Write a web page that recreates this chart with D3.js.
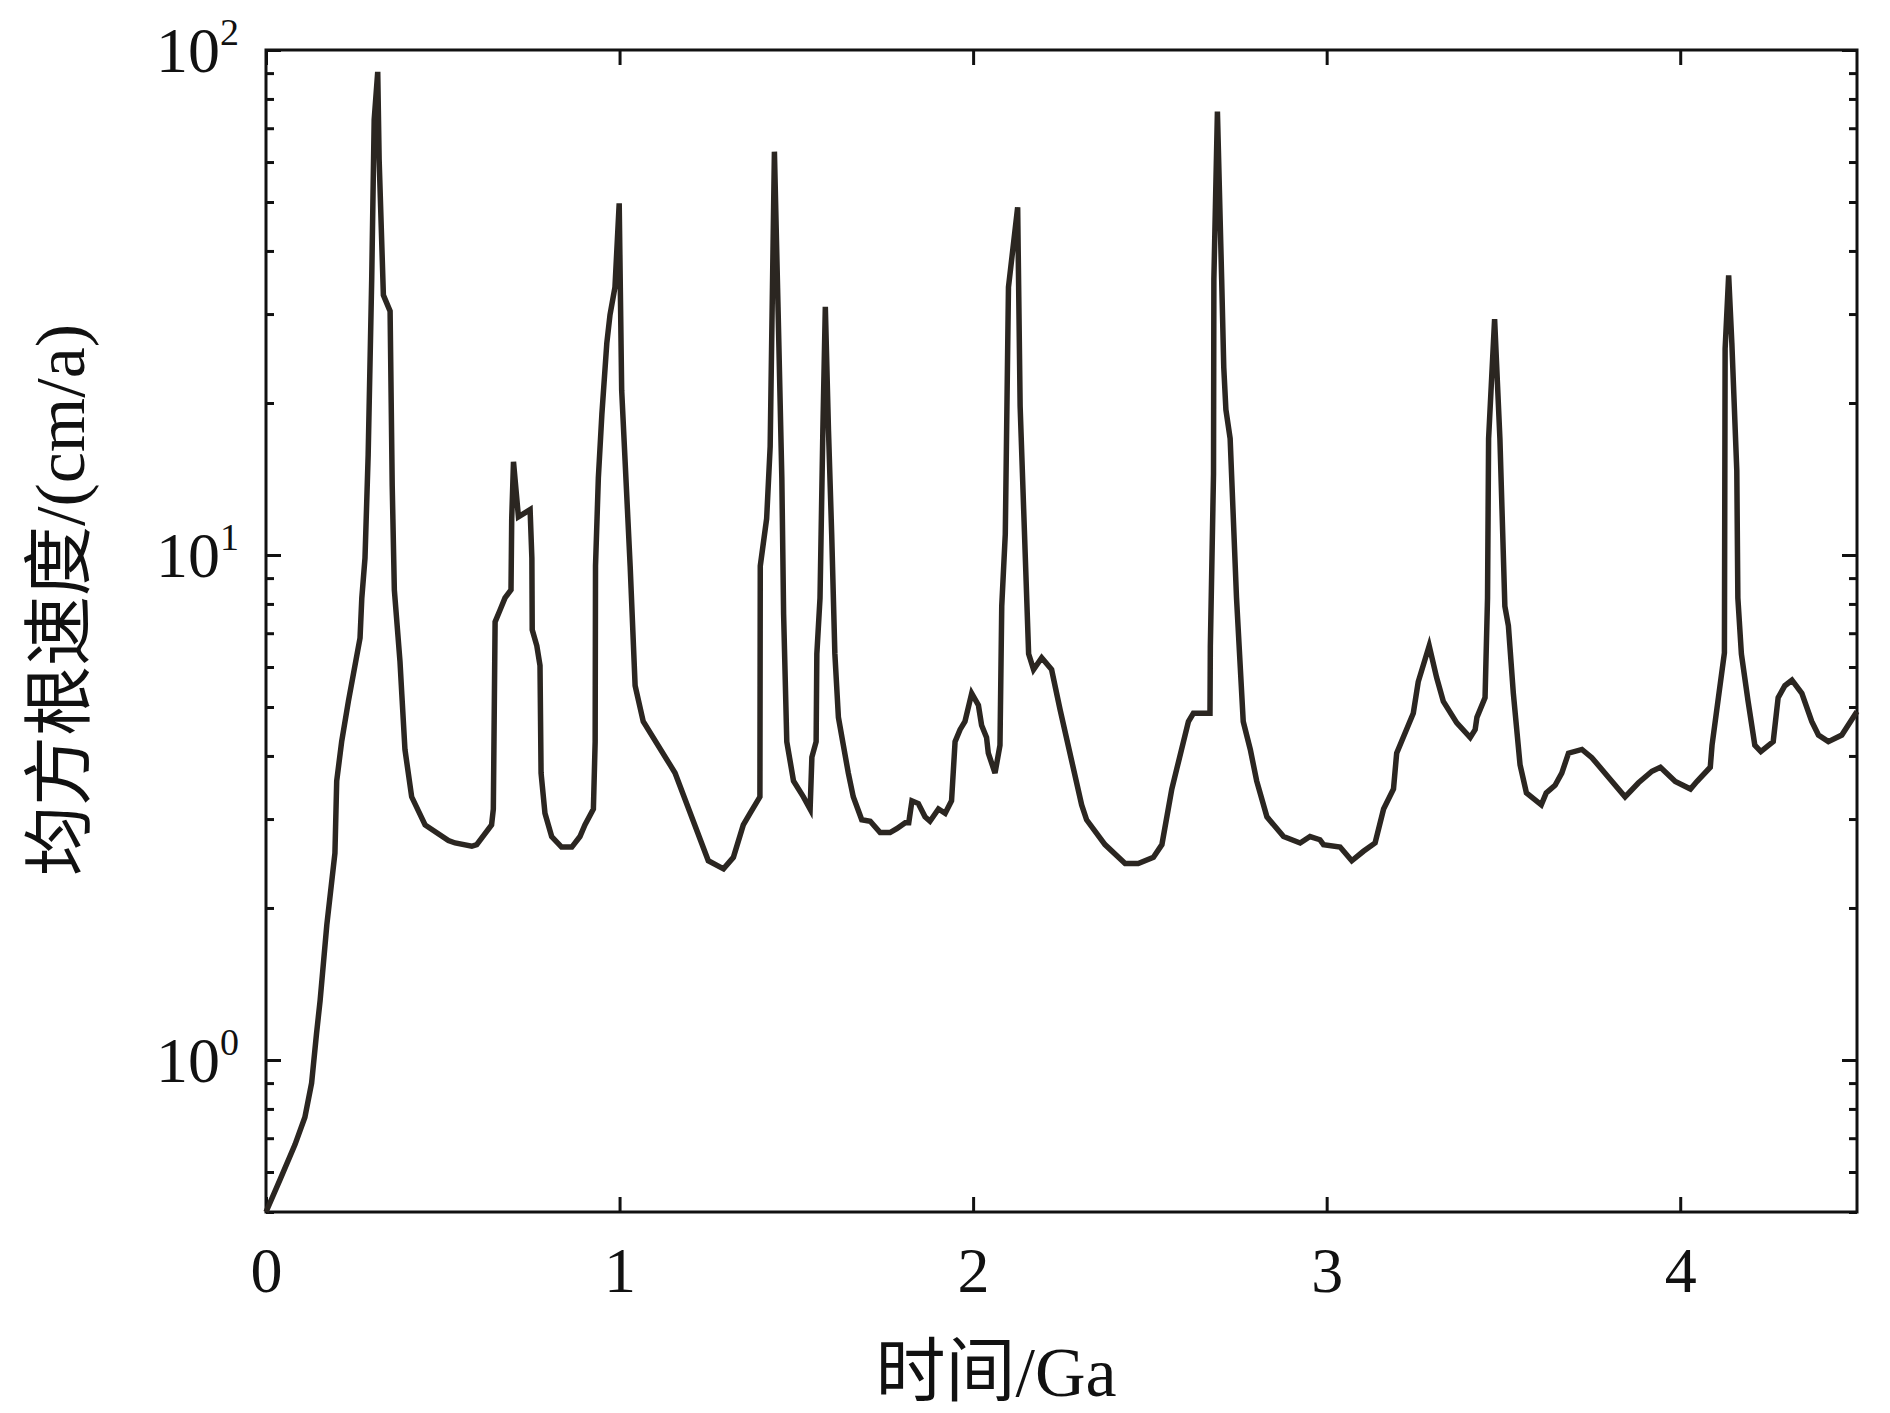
<!DOCTYPE html>
<html>
<head>
<meta charset="utf-8">
<script src="https://cdn.jsdelivr.net/npm/d3@7"></script>
<style>
  body { margin: 0; background: #fff; }
  svg { display: block; }
  text { font-family: "Liberation Serif", "Noto Sans CJK SC", serif; fill: #111; }
</style>
</head>
<body>
<div id="chart"></div>
<script>
// time in Ga and rms velocity in cm/a
const timeGa = [
  0, 0.04, 0.082, 0.110, 0.129, 0.143, 0.153, 0.172, 0.195, 0.200,
  0.214, 0.233, 0.266, 0.271, 0.280, 0.289, 0.299, 0.306, 0.316, 0.320,
  0.332, 0.351, 0.357, 0.363, 0.379, 0.384, 0.393, 0.412, 0.450, 0.516,
  0.535, 0.582, 0.596, 0.638, 0.643, 0.648, 0.662, 0.676, 0.693, 0.695,
  0.700, 0.714, 0.747, 0.752, 0.753, 0.766, 0.775, 0.778, 0.789, 0.808,
  0.836, 0.865, 0.888, 0.902, 0.926, 0.931, 0.932, 0.940, 0.950, 0.964,
  0.973, 0.987, 0.999, 1.006, 1.030, 1.044, 1.067, 1.143, 1.157, 1.251,
  1.294, 1.322, 1.350, 1.369, 1.397, 1.398, 1.416, 1.426, 1.438, 1.449,
  1.459, 1.464, 1.473, 1.492, 1.520, 1.539, 1.544, 1.556, 1.558, 1.567,
  1.575, 1.582, 1.591, 1.600, 1.609, 1.619, 1.633, 1.647, 1.661, 1.685,
  1.709, 1.737, 1.765, 1.784, 1.808, 1.818, 1.827, 1.845, 1.864, 1.878,
  1.902, 1.921, 1.939, 1.949, 1.963, 1.977, 1.996, 2.015, 2.024, 2.038,
  2.043, 2.062, 2.076, 2.081, 2.091, 2.100, 2.126, 2.133, 2.157, 2.171,
  2.194, 2.222, 2.246, 2.307, 2.321, 2.373, 2.430, 2.467, 2.510, 2.534,
  2.562, 2.576, 2.595, 2.609, 2.623, 2.670, 2.671, 2.680, 2.681, 2.691,
  2.703, 2.709, 2.715, 2.727, 2.745, 2.764, 2.784, 2.802, 2.831, 2.878,
  2.925, 2.953, 2.981, 2.991, 3.038, 3.071, 3.104, 3.137, 3.161, 3.189,
  3.198, 3.245, 3.259, 3.290, 3.311, 3.330, 3.368, 3.406, 3.420, 3.425,
  3.448, 3.455, 3.458, 3.475, 3.490, 3.504, 3.514, 3.528, 3.547, 3.565,
  3.607, 3.621, 3.646, 3.665, 3.684, 3.722, 3.750, 3.797, 3.844, 3.882,
  3.920, 3.944, 3.986, 4.029, 4.047, 4.085, 4.090, 4.108, 4.125, 4.127,
  4.137, 4.146, 4.160, 4.163, 4.173, 4.192, 4.211, 4.228, 4.263, 4.277,
  4.296, 4.316, 4.344, 4.372, 4.391, 4.419, 4.457, 4.5
];
const rmsVelocity = [
  0.5, 0.58, 0.68, 0.77, 0.90, 1.13, 1.31, 1.85, 2.57, 3.57,
  4.27, 5.13, 6.85, 8.22, 9.86, 15.8, 35.2, 72.8, 90.5, 60.7,
  32.7, 30.4, 13.7, 8.53, 6.15, 5.32, 4.12, 3.32, 2.92, 2.72,
  2.69, 2.65, 2.67, 2.92, 3.14, 7.37, 7.78, 8.22, 8.53, 11.8,
  15.3, 11.9, 12.3, 9.86, 7.11, 6.61, 6.04, 3.70, 3.08, 2.77,
  2.64, 2.64, 2.77, 2.92, 3.14, 4.27, 9.51, 14.2, 19.0, 26.3,
  29.9, 33.9, 49.7, 21.2, 9.51, 5.51, 4.68, 3.84, 3.70, 2.48,
  2.39, 2.52, 2.92, 3.08, 3.32, 9.51, 11.8, 16.4, 62.9, 29.3,
  14.2, 7.65, 4.27, 3.57, 3.32, 3.14, 3.98, 4.27, 6.37, 8.22,
  17.6, 31.0, 17.6, 11.0, 6.37, 4.77, 4.20, 3.70, 3.32, 2.99,
  2.97, 2.82, 2.82, 2.87, 2.95, 2.95, 3.26, 3.22, 3.03, 2.97,
  3.14, 3.08, 3.26, 4.27, 4.51, 4.68, 5.32, 5.04, 4.60, 4.35,
  4.05, 3.70, 4.20, 7.92, 11.0, 33.9, 48.8, 19.7, 6.37, 5.93,
  6.26, 5.93, 4.94, 3.20, 2.99, 2.67, 2.45, 2.45, 2.52, 2.67,
  3.44, 3.77, 4.27, 4.68, 4.86, 4.86, 6.61, 14.5, 35.2, 75.5,
  35.2, 23.5, 19.4, 17.0, 8.22, 4.68, 4.12, 3.57, 3.03, 2.77,
  2.69, 2.77, 2.73, 2.67, 2.64, 2.48, 2.59, 2.69, 3.14, 3.44,
  4.05, 4.86, 5.61, 6.61, 5.72, 5.13, 4.65, 4.35, 4.51, 4.77,
  5.22, 8.22, 17.0, 29.3, 17.0, 7.92, 7.24, 5.32, 3.84, 3.38,
  3.20, 3.38, 3.50, 3.70, 4.05, 4.12, 3.97, 3.63, 3.32, 3.54,
  3.73, 3.80, 3.56, 3.44, 3.56, 3.80, 4.20, 5.22, 6.4, 25.6,
  35.8, 26.3, 14.7, 8.22, 6.37, 5.13, 4.20, 4.08, 4.27, 5.22,
  5.51, 5.65, 5.32, 4.68, 4.40, 4.27, 4.40, 4.9
];
const xTickValues = [0, 1, 2, 3, 4];
const yLabelValues = [1, 10, 100];
const yLabelExponents = ["0", "1", "2"];
const xTitle = "时间/Ga";
const yTitle = "均方根速度/(cm/a)";

const margin = { top: 50, right: 33, bottom: 201, left: 266 },
    width = 1890 - margin.left - margin.right,
    height = 1413 - margin.top - margin.bottom;

const svg = d3.select("#chart")
    .append("svg")
    .attr("width", 1890)
    .attr("height", 1413);

const g = svg.append("g")
    .attr("transform", `translate(${margin.left}, ${margin.top})`);

const xScale = d3.scaleLinear().domain([0, 4.5]).range([0, width]);
const yScale = d3.scaleLog().domain([0.5, 100]).range([height, 0]);

const isMajor = d => Math.abs(Math.log10(d) - Math.round(Math.log10(d))) < 1e-9;

// bottom axis, ticks point inward
g.append("g")
    .attr("transform", `translate(0, ${height})`)
    .call(d3.axisBottom(xScale).tickValues(xTickValues).tickSize(-15).tickPadding(35).tickFormat(d3.format("d")))
    .call(a => a.select(".domain").remove())
    .call(a => a.selectAll("line").attr("stroke", "#111").attr("stroke-width", 3))
    .call(a => a.selectAll("text").attr("font-size", 64).attr("font-family", "Liberation Serif").attr("fill", "#111"));

// top axis, ticks only
g.append("g")
    .call(d3.axisTop(xScale).tickValues(xTickValues).tickSize(-15).tickFormat(""))
    .call(a => a.select(".domain").remove())
    .call(a => a.selectAll("line").attr("stroke", "#111").attr("stroke-width", 3));

// left axis with minor ticks
g.append("g")
    .call(d3.axisLeft(yScale).tickValues(yScale.ticks()).tickSize(-8).tickFormat(""))
    .call(a => a.select(".domain").remove())
    .call(a => a.selectAll("line").attr("stroke", "#111").attr("stroke-width", 3)
        .attr("x2", d => isMajor(d) ? 15 : 8));

// right axis mirror
g.append("g")
    .attr("transform", `translate(${width}, 0)`)
    .call(d3.axisRight(yScale).tickValues(yScale.ticks()).tickSize(-8).tickFormat(""))
    .call(a => a.select(".domain").remove())
    .call(a => a.selectAll("line").attr("stroke", "#111").attr("stroke-width", 3)
        .attr("x2", d => isMajor(d) ? -15 : -8));

// 10^n labels
const yLabels = g.append("g").selectAll("text")
    .data(yLabelValues)
    .enter().append("text")
    .attr("x", -27)
    .attr("y", d => yScale(d) + 22)
    .attr("text-anchor", "end")
    .attr("font-size", 64);
yLabels.append("tspan").text("10");
yLabels.append("tspan")
    .attr("dy", -27)
    .attr("font-size", 38)
    .text((d, i) => yLabelExponents[i]);

// frame
g.append("rect")
    .attr("width", width)
    .attr("height", height)
    .attr("fill", "none")
    .attr("stroke", "#111")
    .attr("stroke-width", 3);

// the curve
const points = timeGa.map((t, i) => ({ t: t, v: rmsVelocity[i] }));
g.append("path")
    .datum(points)
    .attr("fill", "none")
    .attr("stroke", "#2b2621")
    .attr("stroke-width", 5.5)
    .attr("stroke-linejoin", "miter")
    .attr("d", d3.line().x(d => xScale(d.t)).y(d => yScale(d.v)));

// axis titles
svg.append("text")
    .attr("x", 996)
    .attr("y", 1396)
    .attr("text-anchor", "middle")
    .attr("font-size", 70)
    .text(xTitle);

svg.append("text")
    .attr("transform", "translate(84, 600) rotate(-90)")
    .attr("text-anchor", "middle")
    .attr("font-size", 70)
    .text(yTitle);
</script>
</body>
</html>
